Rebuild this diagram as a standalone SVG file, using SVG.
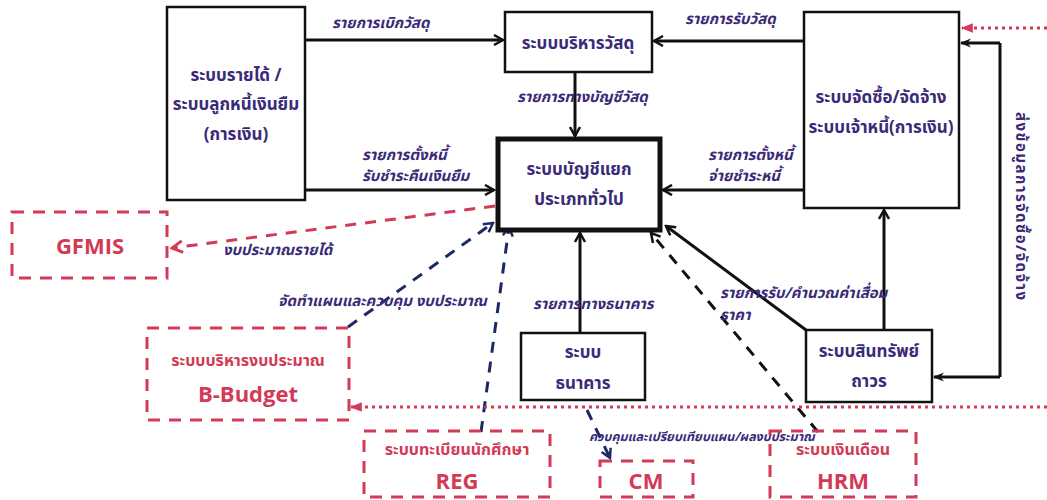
<svg xmlns="http://www.w3.org/2000/svg" width="1047" height="500" viewBox="0 0 1047 500">
<style>
.box{fill:#fff;stroke:#111;stroke-width:2.5}
.gl{fill:#fff;stroke:#111;stroke-width:5}
.rbox{fill:none;stroke:#d23a55;stroke-width:3;stroke-dasharray:12,9}
.nt{font-family:"Noto Sans Thai","Noto Sans","DejaVu Sans",sans-serif;font-size:17px;font-weight:bold;fill:#3b2a78;text-anchor:middle}
.rt{font-family:"Noto Sans Thai","Noto Sans","DejaVu Sans",sans-serif;font-size:16px;font-weight:bold;fill:#d23a55;text-anchor:middle}
.rb{font-family:"Open Sans","Noto Sans",sans-serif;font-size:22px;font-weight:bold;fill:#d23a55;text-anchor:middle}
.lb{font-family:"Noto Sans Thai","Noto Sans","DejaVu Sans",sans-serif;font-size:15px;font-style:italic;font-weight:bold;fill:#3b2a78}
.c{fill:none;stroke:#111;stroke-width:3}
.cd{fill:none;stroke:#111;stroke-width:3;stroke-dasharray:11,9}
.nd{fill:none;stroke:#1b2a66;stroke-width:3;stroke-dasharray:11,9}
.rd{fill:none;stroke:#d23a55;stroke-width:3;stroke-dasharray:11,9}
.rdot{fill:none;stroke:#d23a55;stroke-width:3;stroke-dasharray:3,4}
</style>
<defs>
<marker id="ah" viewBox="0 0 12 12" refX="10" refY="6" markerWidth="12" markerHeight="12" markerUnits="userSpaceOnUse" orient="auto">
<path d="M1,1 L10,6 L1,11" fill="none" stroke="#111" stroke-width="2.5"/>
</marker>
<marker id="ahn" viewBox="0 0 12 12" refX="10" refY="6" markerWidth="12" markerHeight="12" markerUnits="userSpaceOnUse" orient="auto">
<path d="M1,1 L10,6 L1,11" fill="none" stroke="#1b2a66" stroke-width="2.5"/>
</marker>
<marker id="ahr" viewBox="0 0 12 12" refX="10" refY="6" markerWidth="14" markerHeight="14" markerUnits="userSpaceOnUse" orient="auto">
<path d="M1,1 L10,6 L1,11" fill="none" stroke="#d23a55" stroke-width="2.5"/>
</marker>
<marker id="ahrf" viewBox="0 0 10 10" refX="9" refY="5" markerWidth="12" markerHeight="12" markerUnits="userSpaceOnUse" orient="auto">
<path d="M0,1 L10,5 L0,9 Z" fill="#d23a55"/>
</marker>
<marker id="ahf" viewBox="0 0 10 10" refX="9" refY="5" markerWidth="11" markerHeight="11" markerUnits="userSpaceOnUse" orient="auto">
<path d="M0,1 L10,5 L0,9 L3,5 Z" fill="#111"/>
</marker>
</defs>

<g id="connectors">
<path class="c" d="M305,40 L503,40" marker-end="url(#ah)"/>
<path class="c" d="M804,41 L654,41" marker-end="url(#ah)"/>
<path class="c" d="M575,72 L575,136" marker-end="url(#ah)"/>
<path class="c" d="M305,190 L494,190" marker-end="url(#ah)"/>
<path class="c" d="M804,190 L663,190" marker-end="url(#ah)"/>
<path class="c" d="M580,333 L580,233" marker-end="url(#ah)"/>
<path class="c" d="M806,330 L666,226" marker-end="url(#ah)"/>
<path class="c" d="M884,330 L884,210" marker-end="url(#ah)"/>
<path class="c" d="M1000,43 L1000,377"/>
<path class="c" d="M1000,43 L961,43" marker-end="url(#ahf)"/>
<path class="c" d="M1000,377 L934,377" marker-end="url(#ahf)"/>
<path class="cd" d="M818,432 L651,233" marker-end="url(#ah)"/>
<path class="rd" d="M495,206 L172,248" marker-end="url(#ahr)"/>
<path class="nd" d="M348,327 L493,223" marker-end="url(#ahn)"/>
<path class="nd" d="M481,432 L509,227" marker-end="url(#ahn)"/>
<path class="nd" d="M587,410 L610,458" marker-end="url(#ahn)"/>
<path class="rdot" d="M1047,28 L962,28" marker-end="url(#ahrf)"/>
<path class="rdot" d="M1047,407 L351,407" marker-end="url(#ahrf)"/>
<text class="lb" x="332" y="28">รายการเบิกวัสดุ</text>
<text class="lb" x="685" y="24">รายการรับวัสดุ</text>
<text class="lb" x="517" y="102">รายการทางบัญชีวัสดุ</text>
<text class="lb" x="362" y="160">รายการตั้งหนี้</text>
<text class="lb" x="362" y="181">รับชำระคืนเงินยืม</text>
<text class="lb" x="708" y="160">รายการตั้งหนี้</text>
<text class="lb" x="708" y="181">จ่ายชำระหนี้</text>
<text class="lb" x="223" y="255">งบประมาณรายได้</text>
<text class="lb" x="278" y="306">จัดทำแผนและควบคุม งบประมาณ</text>
<text class="lb" x="533" y="309">รายการทางธนาคาร</text>
<text class="lb" x="720" y="298">รายการรับ/คำนวณค่าเสื่อม</text>
<text class="lb" x="720" y="320">ราคา</text>
<text class="lb" x="589" y="441" style="font-size:12.5px">ควบคุมและเปรียบเทียบแผน/ผลงบประมาณ</text>
<text class="lb" transform="translate(1016,112) rotate(90)" style="font-style:normal;letter-spacing:1.5px">ส่งข้อมูลการจัดซื้อ/จัดจ้าง</text>
</g>

<g id="revenue">
<rect class="box" x="167" y="7" width="138" height="193"/>
<text class="nt" x="236" y="81">ระบบรายได้ /</text>
<text class="nt" x="236" y="110">ระบบลูกหนี้เงินยืม</text>
<text class="nt" x="236" y="140">(การเงิน)</text>
</g>
<g id="material">
<rect class="box" x="505" y="12" width="147" height="60"/>
<text class="nt" x="578" y="49">ระบบบริหารวัสดุ</text>
</g>
<g id="gl">
<rect class="gl" x="498" y="139" width="162" height="91"/>
<text class="nt" x="579" y="175">ระบบบัญชีแยก</text>
<text class="nt" x="579" y="205">ประเภททั่วไป</text>
</g>
<g id="procurement">
<rect class="box" x="804" y="12" width="155" height="196"/>
<text class="nt" x="881" y="103">ระบบจัดซื้อ/จัดจ้าง</text>
<text class="nt" x="881" y="133">ระบบเจ้าหนี้(การเงิน)</text>
</g>
<g id="bank">
<rect class="box" x="521" y="333" width="124" height="67"/>
<text class="nt" x="583" y="358">ระบบ</text>
<text class="nt" x="583" y="389">ธนาคาร</text>
</g>
<g id="asset">
<rect class="box" x="806" y="330" width="126" height="72"/>
<text class="nt" x="869" y="357">ระบบสินทรัพย์</text>
<text class="nt" x="869" y="387">ถาวร</text>
</g>
<g id="gfmis">
<rect class="rbox" x="12" y="212" width="155" height="66"/>
<text class="rb" x="90" y="254">GFMIS</text>
</g>
<g id="bbudget">
<rect class="rbox" x="147" y="328" width="202" height="92"/>
<text class="rt" x="248" y="366">ระบบบริหารงบประมาณ</text>
<text class="rb" x="248" y="402">B-Budget</text>
</g>
<g id="reg">
<rect class="rbox" x="364" y="431" width="186" height="66"/>
<text class="rt" x="457" y="455">ระบบทะเบียนนักศึกษา</text>
<text class="rb" x="457" y="489">REG</text>
</g>
<g id="cm">
<rect class="rbox" x="600" y="461" width="93" height="36"/>
<text class="rb" x="646" y="489">CM</text>
</g>
<g id="hrm">
<rect class="rbox" x="770" y="431" width="146" height="66"/>
<text class="rt" x="843" y="455">ระบบเงินเดือน</text>
<text class="rb" x="843" y="489">HRM</text>
</g>
</svg>
